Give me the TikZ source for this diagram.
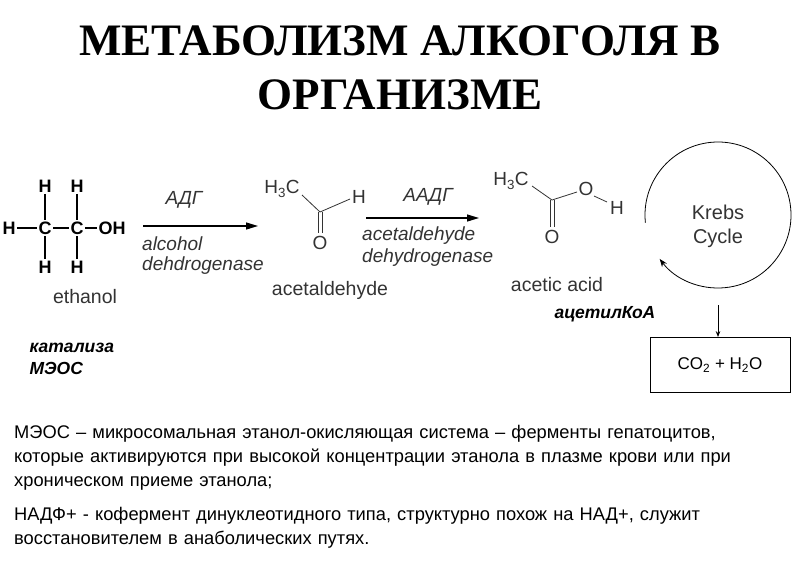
\documentclass[tikz,border=0pt]{standalone}
\usepackage{fontspec}
\setmainfont{Liberation Sans}
\newfontfamily\titlefont{Liberation Serif}
\usetikzlibrary{arrows.meta}
\begin{document}
\begin{tikzpicture}[x=1pt,y=-1pt,
  lbl/.style={font=\fontsize{19.5}{22}\selectfont, text=black!80, inner sep=1pt},
  enz/.style={font=\fontsize{19}{22}\selectfont\itshape, text=black!80, inner sep=1pt, anchor=west},
  atm/.style={font=\fontsize{18}{20}\selectfont\bfseries, inner sep=1.5pt},
  ch/.style={font=\fontsize{19}{22}\selectfont, text=black!80, inner sep=1pt},
  bond/.style={line width=1.4pt},
  sbond/.style={line width=0.8pt, black!80},
  rx/.style={line width=1.2pt, -{Triangle[length=12pt,width=7pt]}},
  body/.style={font=\fontsize{18.3}{24}\selectfont, anchor=north west, align=left, inner sep=0pt, text width=762pt}]
\useasboundingbox (0,0) rectangle (800,560);
\fill[white] (0,0) rectangle (800,560);
\node[font=\titlefont\bfseries\fontsize{45}{54}\selectfont, align=center] (title) at (400,68) {МЕТАБОЛИЗМ АЛКОГОЛЯ В\\ОРГАНИЗМЕ};
% ethanol
\node[atm] (h1) at (45,186) {H};
\node[atm] (h2) at (77,186) {H};
\node[atm] (hl) at (9,228) {H};
\node[atm] (c1) at (45,228) {C};
\node[atm] (c2) at (77,228) {C};
\node[atm] (oh) at (112,228) {OH};
\node[atm] (h3) at (45,267) {H};
\node[atm] (h4) at (77,267) {H};
\draw[bond] (h1)--(c1) (h2)--(c2) (hl)--(c1) (c1)--(c2) (c2)--(oh) (c1)--(h3) (c2)--(h4);
\node[lbl] (eth) at (85,297) {ethanol};
% arrow 1
\coordinate (a1s) at (143,226); \coordinate (a1e) at (258,226);
\draw[rx] (a1s)--(a1e);
\node[enz, anchor=center] (adg) at (184,200) {АДГ};
\node[enz] (alc) at (141,244) {alcohol};
\node[enz] (dh1) at (141,266) {dehdrogenase};
% acetaldehyde
\node[ch] (ald1) at (282,189) {H\textsubscript{3}C};
\coordinate (cv1) at (320,212);
\node[ch] (aldh) at (359,197) {H};
\node[ch] (aldo) at (320,243) {O};
\draw[sbond] (302,195)--(cv1)--(350,199);
\draw[sbond] (318,212)--(318,233) (322,212)--(322,233);
\node[lbl] (acn) at (330,290) {acetaldehyde};
% arrow 2
\coordinate (a2s) at (366,218); \coordinate (a2e) at (479,218);
\draw[rx] (a2s)--(a2e);
\node[enz, anchor=center] (aadg) at (428,197) {ААДГ};
\node[enz] (acd) at (361,236) {acetaldehyde};
\node[enz] (dh2) at (361,258) {dehydrogenase};
% acetic acid
\node[ch] (ac1) at (511,181) {H\textsubscript{3}C};
\coordinate (cv2) at (552,200);
\node[ch] (aco) at (586,189) {O};
\node[ch] (ach) at (617,208) {H};
\node[ch] (aco2) at (552,237) {O};
\draw[sbond] (532,186)--(cv2)--(577,192);
\draw[sbond] (594,196)--(607,202);
\draw[sbond] (550,200)--(550,227) (554,200)--(554,227);
\node[lbl] (aca) at (557,285) {acetic acid};
\node[font=\fontsize{17.5}{20}\selectfont\bfseries\itshape] (acoa) at (605,314) {ацетилКоА};
% Krebs
\node[font=\fontsize{20}{24}\selectfont, text=black!80, align=center] (krebs) at (718,226) {Krebs\\Cycle};
\draw[line width=0.8pt, -{Stealth[length=8pt]}] (718,215) ++(-186:73) arc[start angle=-186, end angle=143, radius=73];
\node[draw, line width=0.8pt, minimum width=140pt, minimum height=55pt, font=\fontsize{17}{20}\selectfont] (prod) at (720,365) {CO\textsubscript{2} + H\textsubscript{2}O};
\coordinate (kd) at (718,305);
\draw[line width=1pt, -{Stealth[length=6pt]}] (kd) -- (kd |- prod.north);
\node[font=\fontsize{17.5}{22}\selectfont\bfseries\itshape, anchor=west, align=left] (kat) at (26,359) {катализа\\МЭОС};
% body text
\node[body] (t1) at (14,425) {\raggedright МЭОС – микросомальная этанол-окисляющая система – ферменты гепатоцитов, которые активируются при высокой концентрации этанола в плазме крови или при хроническом приеме этанола;};
\node[body] (t2) at (14,507) {\raggedright НАДФ+ - кофермент динуклеотидного типа, структурно похож на НАД+, служит восстановителем в анаболических путях.};
\end{tikzpicture}
\end{document}
